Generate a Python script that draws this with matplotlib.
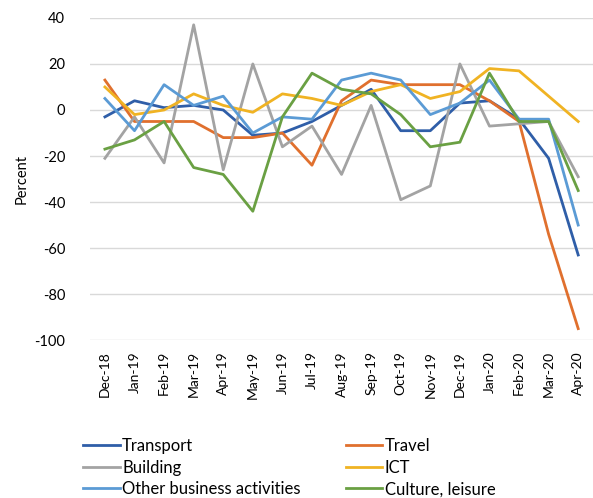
import matplotlib

matplotlib.use("Agg")
import matplotlib.pyplot as plt

plt.rcParams["font.family"] = ["Lato", "DejaVu Sans"]
plt.rcParams["axes.unicode_minus"] = False

months = ["Dec-18", "Jan-19", "Feb-19", "Mar-19", "Apr-19", "May-19", "Jun-19",
          "Jul-19", "Aug-19", "Sep-19", "Oct-19", "Nov-19", "Dec-19", "Jan-20",
          "Feb-20", "Mar-20", "Apr-20"]

transport = [-3, 4, 1, 2, 0, -11, -10, -5, 2, 9, -9, -9, 3, 4, -4, -21, -63]
travel = [13, -5, -5, -5, -12, -12, -10, -24, 4, 13, 11, 11, 11, 4, -5, -54, -95]
building = [-21, -3, -23, 37, -26, 20, -16, -7, -28, 2, -39, -33, 20, -7, -6, -5, -29]
ict = [10, -2, 0, 7, 2, -1, 7, 5, 2, 8, 11, 5, 8, 18, 17, 6, -5]
other_business = [5, -9, 11, 2, 6, -10, -3, -4, 13, 16, 13, -2, 3, 13, -4, -4, -50]
culture = [-17, -13, -5, -25, -28, -44, -3, 16, 9, 7, -2, -16, -14, 16, -5, -5, -35]

series = [
    ("Transport", transport, "#2f5ea8"),
    ("Travel", travel, "#e0702e"),
    ("Building", building, "#a3a3a3"),
    ("ICT", ict, "#f0b323"),
    ("Other business activities", other_business, "#5b9bd5"),
    ("Culture, leisure", culture, "#6aa043"),
]

fig = plt.figure(figsize=(5.93, 4.98), dpi=100)
ax = fig.add_axes([0.152, 0.317, 0.848, 0.647])

xs = range(len(months))
handles = []
for label, values, color in series:
    (line,) = ax.plot(xs, values, color=color, lw=2.0, label=label)
    handles.append(line)

ax.set_xlim(-0.5, len(months) - 0.5)
ax.set_ylim(-100, 40)
ax.set_yticks(range(-100, 41, 20))
ax.set_xticks(list(xs))
ax.set_xticklabels(months, rotation=90, fontsize=10)
ax.tick_params(axis="y", labelsize=10.5, length=0, pad=18)
ax.tick_params(axis="x", length=0, pad=8)
ax.set_ylabel("Percent", fontsize=10.5, labelpad=4)
ax.grid(axis="y", color="#d9d9d9", lw=1)
ax.set_axisbelow(True)
for spine in ax.spines.values():
    spine.set_visible(False)

# legend reads row by row in the reference, matplotlib fills columns first
order = [0, 2, 4, 1, 3, 5]
fig.legend([handles[i] for i in order], [series[i][0] for i in order],
           loc="upper left", bbox_to_anchor=(0.14, 0.12), ncol=2, frameon=False,
           fontsize=12, handlelength=2.2, handletextpad=0.15, columnspacing=2.7,
           labelspacing=0.33, borderaxespad=0, borderpad=0)

fig.savefig("out.png", dpi=100)
